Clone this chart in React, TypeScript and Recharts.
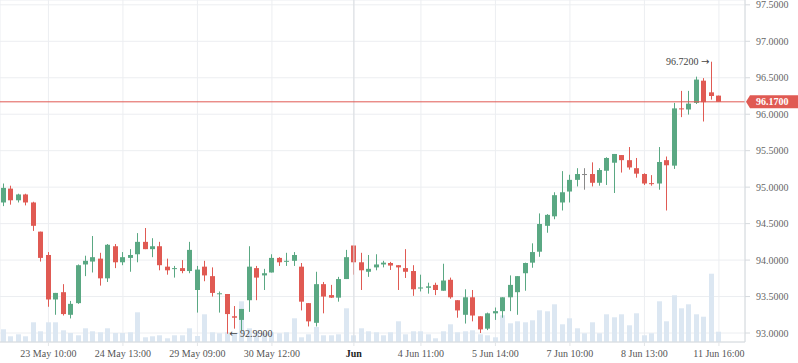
import React from "react";
import {
  ComposedChart,
  Bar,
  XAxis,
  YAxis,
  CartesianGrid,
  ReferenceLine,
  ReferenceDot,
} from "recharts";

// candle values, one entry per bar
const opens = [
  94.79, 94.98, 94.82, 94.9, 94.79, 94.39, 94.07, 93.46, 93.56, 93.25,
  93.41, 93.94, 93.98, 94.02, 93.75, 94.19, 93.97, 94.03, 94.08, 94.25,
  94.15, 94.19, 93.91, 93.88, 93.89, 93.85, 93.59, 93.91, 93.78, 93.535,
  93.535, 93.23, 93.18, 93.45, 93.89, 93.79, 93.83, 94.03, 93.985, 93.99,
  93.91, 93.41, 93.14, 93.67, 93.52, 93.485, 93.74, 94.2, 93.97, 93.84,
  93.9, 93.94, 93.96, 93.93, 93.89, 93.85, 93.61, 93.62, 93.66, 93.58,
  93.73, 93.45, 93.25, 93.49, 93.23, 93.06, 93.27, 93.3, 93.49, 93.56,
  93.82, 93.965, 94.115, 94.47, 94.6, 94.79, 94.94, 95.1, 95.18, 95.18,
  95.06, 95.225, 95.335, 95.44, 95.37, 95.26, 95.18, 95.055, 95.05, 95.37,
  95.295, 96.08, 96.065, 96.155, 96.46, 96.3, 96.255,
];
const highs = [
  95.05, 95.02, 94.91, 94.91, 94.8, 94.39, 94.11, 93.55, 93.67, 93.44,
  93.94, 94.06, 94.33, 94.1, 94.22, 94.22, 94.11, 94.15, 94.37, 94.44,
  94.3, 94.25, 94.02, 93.92, 94.0, 94.25, 93.92, 93.99, 93.9, 93.57,
  93.535, 93.37, 93.33, 94.19, 93.92, 93.88, 94.08, 94.04, 94.1, 94.11,
  93.96, 93.41, 93.84, 93.7, 93.66, 93.77, 94.14, 94.2, 94.1, 94.07,
  94.08, 93.99, 93.975, 93.93, 94.15, 93.93, 93.8, 93.69, 93.69, 93.95,
  93.76, 93.45, 93.6, 93.59, 93.23, 93.28, 93.35, 93.49, 93.79, 93.78,
  93.965, 94.23, 94.64, 94.63, 94.93, 95.22, 95.17, 95.26, 95.26, 95.34,
  95.26, 95.41, 95.455, 95.44, 95.55, 95.4, 95.19, 95.165, 95.55, 95.42,
  96.155, 96.32, 96.32, 96.515, 96.495, 96.72, 96.255,
];
const lows = [
  94.74, 94.76, 94.79, 94.75, 94.4, 93.98, 93.36, 93.25, 93.24, 93.2,
  93.4, 93.78, 93.83, 93.65, 93.7, 93.89, 93.93, 93.84, 93.97, 94.15,
  94.04, 93.86, 93.8, 93.76, 93.82, 93.82, 93.28, 93.71, 93.5, 93.28,
  92.99, 93.06, 93.04, 93.29, 93.45, 93.59, 93.83, 93.92, 93.92, 93.92,
  93.31, 93.09, 93.09, 93.27, 93.48, 93.43, 93.74, 93.8, 93.59, 93.77,
  93.86, 93.9, 93.865, 93.59, 93.755, 93.51, 93.57, 93.54, 93.52, 93.58,
  93.47, 93.21, 93.13, 93.16, 93.0, 93.04, 93.18, 93.21, 93.3, 93.25,
  93.58, 93.895, 94.045, 94.375, 94.56, 94.68, 94.79, 95.01, 94.965, 95.01,
  95.02, 95.03, 94.92, 95.2, 95.24, 95.13, 95.03, 95.02, 94.965, 94.68,
  95.25, 95.96, 95.995, 96.14, 95.9, 96.2, 96.17,
];
const closes = [
  94.99, 94.82, 94.9, 94.79, 94.47, 94.03, 93.46, 93.55, 93.26, 93.4,
  93.93, 93.99, 94.04, 93.75, 94.21, 93.97, 94.04, 94.07, 94.25, 94.15,
  94.19, 93.93, 93.86, 93.89, 93.85, 94.14, 93.87, 93.79, 93.55, 93.545,
  93.26, 93.21, 93.33, 93.91, 93.76, 93.82, 94.03, 93.97, 93.99, 94.07,
  93.43, 93.16, 93.67, 93.5, 93.485, 93.74, 94.04, 93.97, 93.86, 93.88,
  93.94, 93.965, 93.925, 93.9, 93.84, 93.6, 93.625, 93.64, 93.59, 93.72,
  93.49, 93.31, 93.49, 93.24, 93.05, 93.27, 93.3, 93.49, 93.66, 93.78,
  93.96, 94.11, 94.495, 94.62, 94.89, 94.93, 95.1, 95.18, 95.18, 95.06,
  95.235, 95.4, 95.455, 95.37, 95.27, 95.185, 95.05, 95.05, 95.345, 95.3,
  96.08, 96.07, 96.145, 96.475, 96.165, 96.25, 96.17,
];
const volumes = [
  127, 57, 77, 57, 197, 107, 197, 197, 117, 90,
  67, 137, 107, 97, 137, 90, 90, 97, 297, 47,
  57, 67, 37, 67, 67, 137, 60, 277, 97, 87,
  97, 87, 407, 137, 97, 87, 97, 87, 97, 237,
  47, 77, 150, 67, 67, 77, 337, 67, 137, 107,
  97, 67, 97, 207, 77, 107, 107, 77, 37, 107,
  177, 97, 107, 117, 77, 67, 47, 267, 187, 207,
  197, 217, 317, 307, 377, 177, 237, 137, 87, 197,
  87, 277, 247, 277, 167, 287, 67, 87, 407, 207,
  467, 337, 377, 277, 253, 683, 103,
];

const slots = 100;
const tickIdx = [6, 16, 26, 36, 47, 56, 66, 76, 86, 96];
const tickLabels = [
  "23 May 10:00",
  "24 May 13:00",
  "29 May 09:00",
  "30 May 12:00",
  "Jun",
  "4 Jun 11:00",
  "5 Jun 14:00",
  "7 Jun 10:00",
  "8 Jun 13:00",
  "11 Jun 16:00",
];
const priceTicks = [93, 93.5, 94, 94.5, 95, 95.5, 96, 96.5, 97, 97.5];

const UP = "#5aa883";
const DOWN = "#e05a53";
const FLAT = "#8a8a8a";

const data = opens.map((o, i) => ({
  i,
  o,
  h: highs[i],
  l: lows[i],
  c: closes[i],
  v: volumes[i],
}));

const last = data[data.length - 1];
const maxIdx = highs.indexOf(Math.max(...highs));
const minIdx = lows.indexOf(Math.min(...lows));

const Candle = (props: any) => {
  const { x, y, width, height, payload } = props;
  const { o, h, l, c } = payload;
  const top = Math.min(y, y + height);
  const span = Math.abs(height);
  const k = span / (h - l);
  const bx = Math.round(x);
  const mid = bx + Math.floor(width / 2) + 0.5;
  const bTop = top + (h - Math.max(o, c)) * k;
  const bBot = top + (h - Math.min(o, c)) * k;
  const col = c > o ? UP : c < o ? DOWN : FLAT;
  return (
    <g>
      <line x1={mid} x2={mid} y1={top} y2={top + span} stroke={col} strokeWidth={1} />
      <rect x={bx} y={bTop} width={width} height={Math.max(1, bBot - bTop)} fill={col} />
    </g>
  );
};

const Vol = (props: any) => {
  const { x, y, width, height } = props;
  return <rect x={Math.round(x)} y={y} width={width} height={height} fill="#dce7f2" />;
};

const XTick = (props: any) => {
  const { x, y, payload } = props;
  const lbl = tickLabels[tickIdx.indexOf(payload.value)];
  const bold = lbl === "Jun";
  return (
    <text
      x={x}
      y={y}
      dy="0.71em"
      textAnchor="middle"
      fontSize={10}
      fill={bold ? "#222" : "#555"}
      fontWeight={bold ? "bold" : "normal"}
    >
      {lbl}
    </text>
  );
};

const PriceTag = (props: any) => {
  const { viewBox } = props;
  const x0 = viewBox.x + viewBox.width;
  const yy = viewBox.y;
  return (
    <g>
      <path
        d={`M${x0 + 1},${yy} L${x0 + 5},${yy - 6.5} L798,${yy - 6.5} L798,${yy + 6.5} L${x0 + 5},${yy + 6.5} Z`}
        fill={DOWN}
      />
      <text x={x0 + 11} y={yy} dy="0.35em" fontSize={10} fontWeight="bold" fill="#fff">
        {last.c.toFixed(4)}
      </text>
    </g>
  );
};

const arrowFont = "'DejaVu Sans', sans-serif";

const HighNote = (props: any) => (
  <text x={props.cx - 2} y={props.cy} dy="0.35em" textAnchor="end" fontSize={10} fill="#444">
    {highs[maxIdx].toFixed(4) + " "}
    <tspan fontFamily={arrowFont}>{"\u2192"}</tspan>
  </text>
);

const LowNote = (props: any) => (
  <text x={props.cx + 2} y={props.cy} dy="0.35em" textAnchor="start" fontSize={10} fill="#444">
    <tspan fontFamily={arrowFont}>{"\u2190"}</tspan>
    {" " + lows[minIdx].toFixed(4)}
  </text>
);

export default function App() {
  return (
    <div
      style={{
        position: "absolute",
        left: 0,
        top: 0,
        width: 798,
        height: 363,
        background: "#fff",
        fontFamily: "'Liberation Serif', serif",
      }}
    >
      <ComposedChart
        width={798}
        height={363}
        data={data}
        margin={{ top: 0, right: 0, bottom: 0, left: 0 }}
        barGap={-5}
      >
        <CartesianGrid stroke="#eceef1" yAxisId="price" />
        <XAxis
          dataKey="i"
          type="number"
          domain={[-0.5, slots - 0.5]}
          ticks={tickIdx}
          tick={<XTick />}
          height={21}
          axisLine={{ stroke: "#d6dade" }}
          tickLine={{ stroke: "#e2e5e8" }}
          tickSize={4}
          tickMargin={4}
          interval={0}
        />
        <YAxis
          yAxisId="price"
          orientation="right"
          width={53}
          domain={[92.877, 97.566]}
          allowDataOverflow
          ticks={priceTicks}
          interval={0}
          tickFormatter={(v: number) => v.toFixed(4)}
          tick={{ fontSize: 10, fill: "#666" }}
          axisLine={{ stroke: "#d6dade" }}
          tickLine={{ stroke: "#d6dade" }}
          tickSize={5}
          tickMargin={6}
        />
        <YAxis yAxisId="vol" hide domain={[0, 3420]} />
        <ReferenceLine x={47} yAxisId="price" stroke="#d9dde1" />
        <Bar
          yAxisId="vol"
          dataKey="v"
          barSize={5}
          shape={<Vol />}
          isAnimationActive={false}
        />
        <Bar
          yAxisId="price"
          dataKey={(d: any) => [d.l, d.h]}
          barSize={5}
          shape={<Candle />}
          isAnimationActive={false}
        />
        <ReferenceLine
          yAxisId="price"
          y={last.c}
          stroke={DOWN}
          label={<PriceTag />}
        />
        <ReferenceDot
          yAxisId="price"
          x={maxIdx}
          y={highs[maxIdx]}
          r={0}
          shape={<HighNote />}
        />
        <ReferenceDot
          yAxisId="price"
          x={minIdx}
          y={lows[minIdx]}
          r={0}
          shape={<LowNote />}
        />
      </ComposedChart>
    </div>
  );
}
